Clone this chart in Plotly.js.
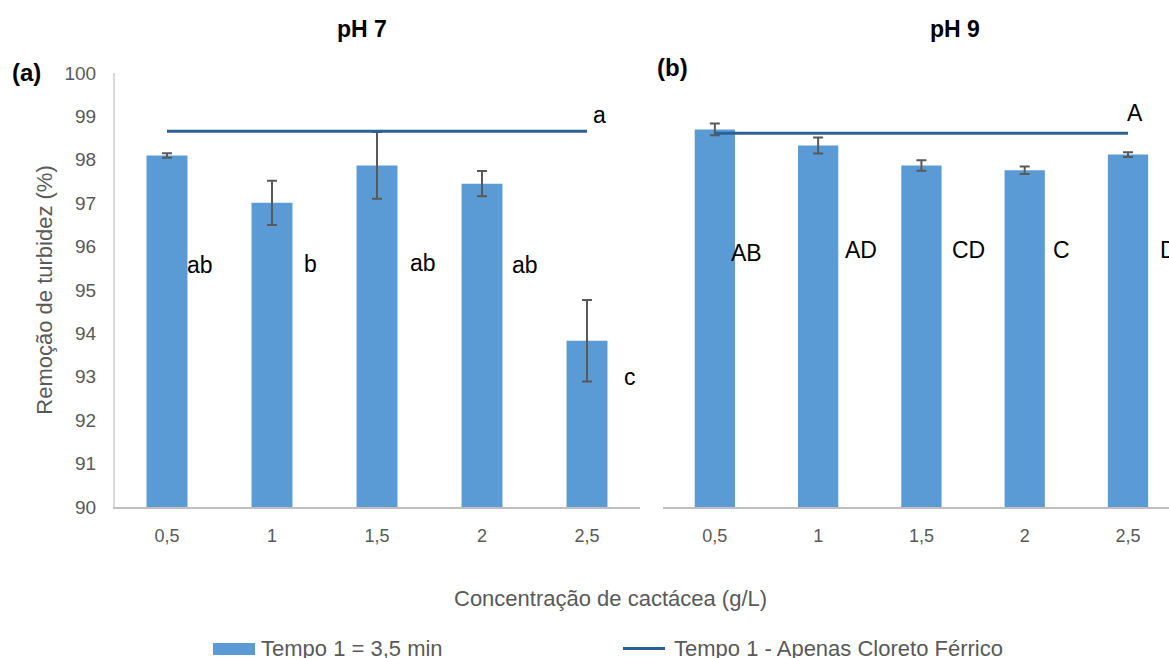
<!DOCTYPE html>
<html>
<head>
<meta charset="utf-8">
<script src="https://cdn.plot.ly/plotly-3.0.1.min.js"></script>
<style>html,body{margin:0;padding:0;background:#fff;}#chart{width:1169px;height:658px;}</style>
</head>
<body>
<div id="chart"></div>
<script>
// ---- data ----
const categories = ['0,5', '1', '1,5', '2', '2,5'];

const ph7Values = [98.10, 97.01, 97.87, 97.45, 93.83];
const ph7Errors = [0.05, 0.51, 0.77, 0.29, 0.94];
const ph7Ferric = [98.66, 98.66, 98.66, 98.66, 98.66];
const ph7Letters = ['ab', 'b', 'ab', 'ab', 'c'];
const ph7FerricLetter = 'a';

const ph9Values = [98.70, 98.33, 97.87, 97.76, 98.12];
const ph9Errors = [0.135, 0.185, 0.12, 0.085, 0.055];
const ph9Ferric = [98.61, 98.61, 98.61, 98.61, 98.61];
const ph9Letters = ['AB', 'AD', 'CD', 'C', 'D'];
const ph9FerricLetter = 'A';

const barName = 'Tempo 1 = 3,5 min';
const lineName = 'Tempo 1 - Apenas Cloreto Férrico';
const yTitle = 'Remoção de turbidez (%)';
const xTitle = 'Concentração de cactácea (g/L)';
const panelTitles = ['pH 7', 'pH 9'];
const panelTags = ['(a)', '(b)'];

// ---- layout helpers (positions / styles) ----
const W = 1169, H = 658;
const px = v => v / W;
const py = v => 1 - v / H;
const FONT = 'Liberation Sans, Arial, sans-serif';
const BAR = '#5b9bd5', LINE = '#2b6096', GREY = '#595959', AXIS = '#bfbfbf';

const ph7LabelY = [95.57, 95.61, 95.62, 95.57, 93.0];
const ph7LabelShift = [33, 38, 46, 43, 43];
const ph9LabelY = [95.86, 95.92, 95.92, 95.92, 95.92];
const ph9LabelShift = [32, 43, 47, 37, 41];

const errStyle = {type: 'data', color: GREY, thickness: 2, width: 5, visible: true};

const traces = [
  {type: 'bar', x: categories, y: ph7Values, name: barName, xaxis: 'x', yaxis: 'y',
   marker: {color: BAR}, error_y: Object.assign({array: ph7Errors}, errStyle), showlegend: false},
  {type: 'scatter', mode: 'lines', x: categories, y: ph7Ferric, name: lineName, xaxis: 'x', yaxis: 'y',
   line: {color: LINE, width: 3}, showlegend: false},
  {type: 'bar', x: categories, y: ph9Values, name: barName, xaxis: 'x2', yaxis: 'y2',
   marker: {color: BAR}, error_y: Object.assign({array: ph9Errors}, errStyle), showlegend: false},
  {type: 'scatter', mode: 'lines', x: categories, y: ph9Ferric, name: lineName, xaxis: 'x2', yaxis: 'y2',
   line: {color: LINE, width: 3}, showlegend: false}
];

const annotations = [];
const letterFont = {family: FONT, size: 23, color: '#000'};
// category index positions (numeric) so that labels like '2' are not read as index 2
ph7Letters.forEach((t, i) => annotations.push({xref: 'x', yref: 'y', x: categories.indexOf(categories[i]), y: ph7LabelY[i],
  text: t, showarrow: false, xshift: ph7LabelShift[i], xanchor: 'center', yanchor: 'middle', font: letterFont}));
ph9Letters.forEach((t, i) => annotations.push({xref: 'x2', yref: 'y2', x: categories.indexOf(categories[i]), y: ph9LabelY[i],
  text: t, showarrow: false, xshift: ph9LabelShift[i], xanchor: 'center', yanchor: 'middle', font: letterFont}));
annotations.push({xref: 'x', yref: 'y', x: categories.length - 1, y: 99.03, text: ph7FerricLetter, showarrow: false,
  xshift: 12, font: letterFont});
annotations.push({xref: 'x2', yref: 'y2', x: categories.length - 1, y: 99.08, text: ph9FerricLetter, showarrow: false,
  xshift: 7, font: letterFont});

// panel titles and tags
const boldFont = {family: FONT, size: 23, color: '#000', weight: 'bold'};
annotations.push({xref: 'paper', yref: 'paper', x: px(362), y: py(29), text: '<b>' + panelTitles[0] + '</b>',
  showarrow: false, xanchor: 'center', yanchor: 'middle', font: boldFont});
annotations.push({xref: 'paper', yref: 'paper', x: px(955), y: py(29), text: '<b>' + panelTitles[1] + '</b>',
  showarrow: false, xanchor: 'center', yanchor: 'middle', font: boldFont});
annotations.push({xref: 'paper', yref: 'paper', x: px(26), y: py(73), text: '<b>' + panelTags[0] + '</b>',
  showarrow: false, xanchor: 'center', yanchor: 'middle', font: {family: FONT, size: 24, color: '#000'}});
annotations.push({xref: 'paper', yref: 'paper', x: px(672), y: py(67), text: '<b>' + panelTags[1] + '</b>',
  showarrow: false, xanchor: 'center', yanchor: 'middle', font: {family: FONT, size: 24, color: '#000'}});

// shared x title
annotations.push({xref: 'paper', yref: 'paper', x: px(611), y: py(598), text: xTitle, showarrow: false,
  xanchor: 'center', yanchor: 'middle', font: {family: FONT, size: 22, color: GREY}});

// legend (drawn manually to match the wide swatches)
const legFont = {family: FONT, size: 22, color: GREY};
annotations.push({xref: 'paper', yref: 'paper', x: px(259), y: py(648), text: barName, showarrow: false,
  xanchor: 'left', yanchor: 'middle', font: legFont});
annotations.push({xref: 'paper', yref: 'paper', x: px(672), y: py(648), text: lineName, showarrow: false,
  xanchor: 'left', yanchor: 'middle', font: legFont});

const shapes = [
  {type: 'rect', xref: 'paper', yref: 'paper', x0: px(213), x1: px(255), y0: py(655), y1: py(643),
   fillcolor: BAR, line: {width: 0}},
  {type: 'line', xref: 'paper', yref: 'paper', x0: px(623), x1: px(665), y0: py(648.5), y1: py(648.5),
   line: {color: LINE, width: 3}}
];

const yDomain = [py(507), py(73)];
const layout = {
  width: W, height: H,
  margin: {l: 0, r: 0, t: 0, b: 0, pad: 0},
  paper_bgcolor: '#fff', plot_bgcolor: 'rgba(0,0,0,0)',
  bargap: 0.61,
  showlegend: false,
  font: {family: FONT, color: GREY},
  xaxis: {domain: [px(114.5), px(639.5)], anchor: 'y', type: 'category', range: [-0.5, 4.5],
    showline: true, linecolor: AXIS, linewidth: 1.5, ticks: '', showgrid: false, zeroline: false,
    tickfont: {family: FONT, size: 18, color: GREY}, ticklabelstandoff: 12, fixedrange: true},
  yaxis: {domain: yDomain, anchor: 'x', range: [90, 100], dtick: 1, tick0: 90,
    showline: true, linecolor: '#d9d9d9', linewidth: 1.5, ticks: '', showgrid: false, zeroline: false,
    tickfont: {family: FONT, size: 19, color: GREY}, ticklabelstandoff: 13,
    title: {text: yTitle, font: {family: FONT, size: 22, color: GREY}, standoff: 6}, fixedrange: true},
  xaxis2: {domain: [px(663.2), 1], anchor: 'y2', type: 'category', range: [-0.5, 4.397],
    showline: true, linecolor: AXIS, linewidth: 1.5, ticks: '', showgrid: false, zeroline: false,
    tickfont: {family: FONT, size: 18, color: GREY}, ticklabelstandoff: 12, fixedrange: true},
  yaxis2: {domain: yDomain, anchor: 'x2', range: [90, 100], showline: false, showticklabels: false,
    ticks: '', showgrid: false, zeroline: false, fixedrange: true},
  annotations: annotations,
  shapes: shapes
};

Plotly.newPlot('chart', traces, layout, {displayModeBar: false, staticPlot: true});
</script>
</body>
</html>
